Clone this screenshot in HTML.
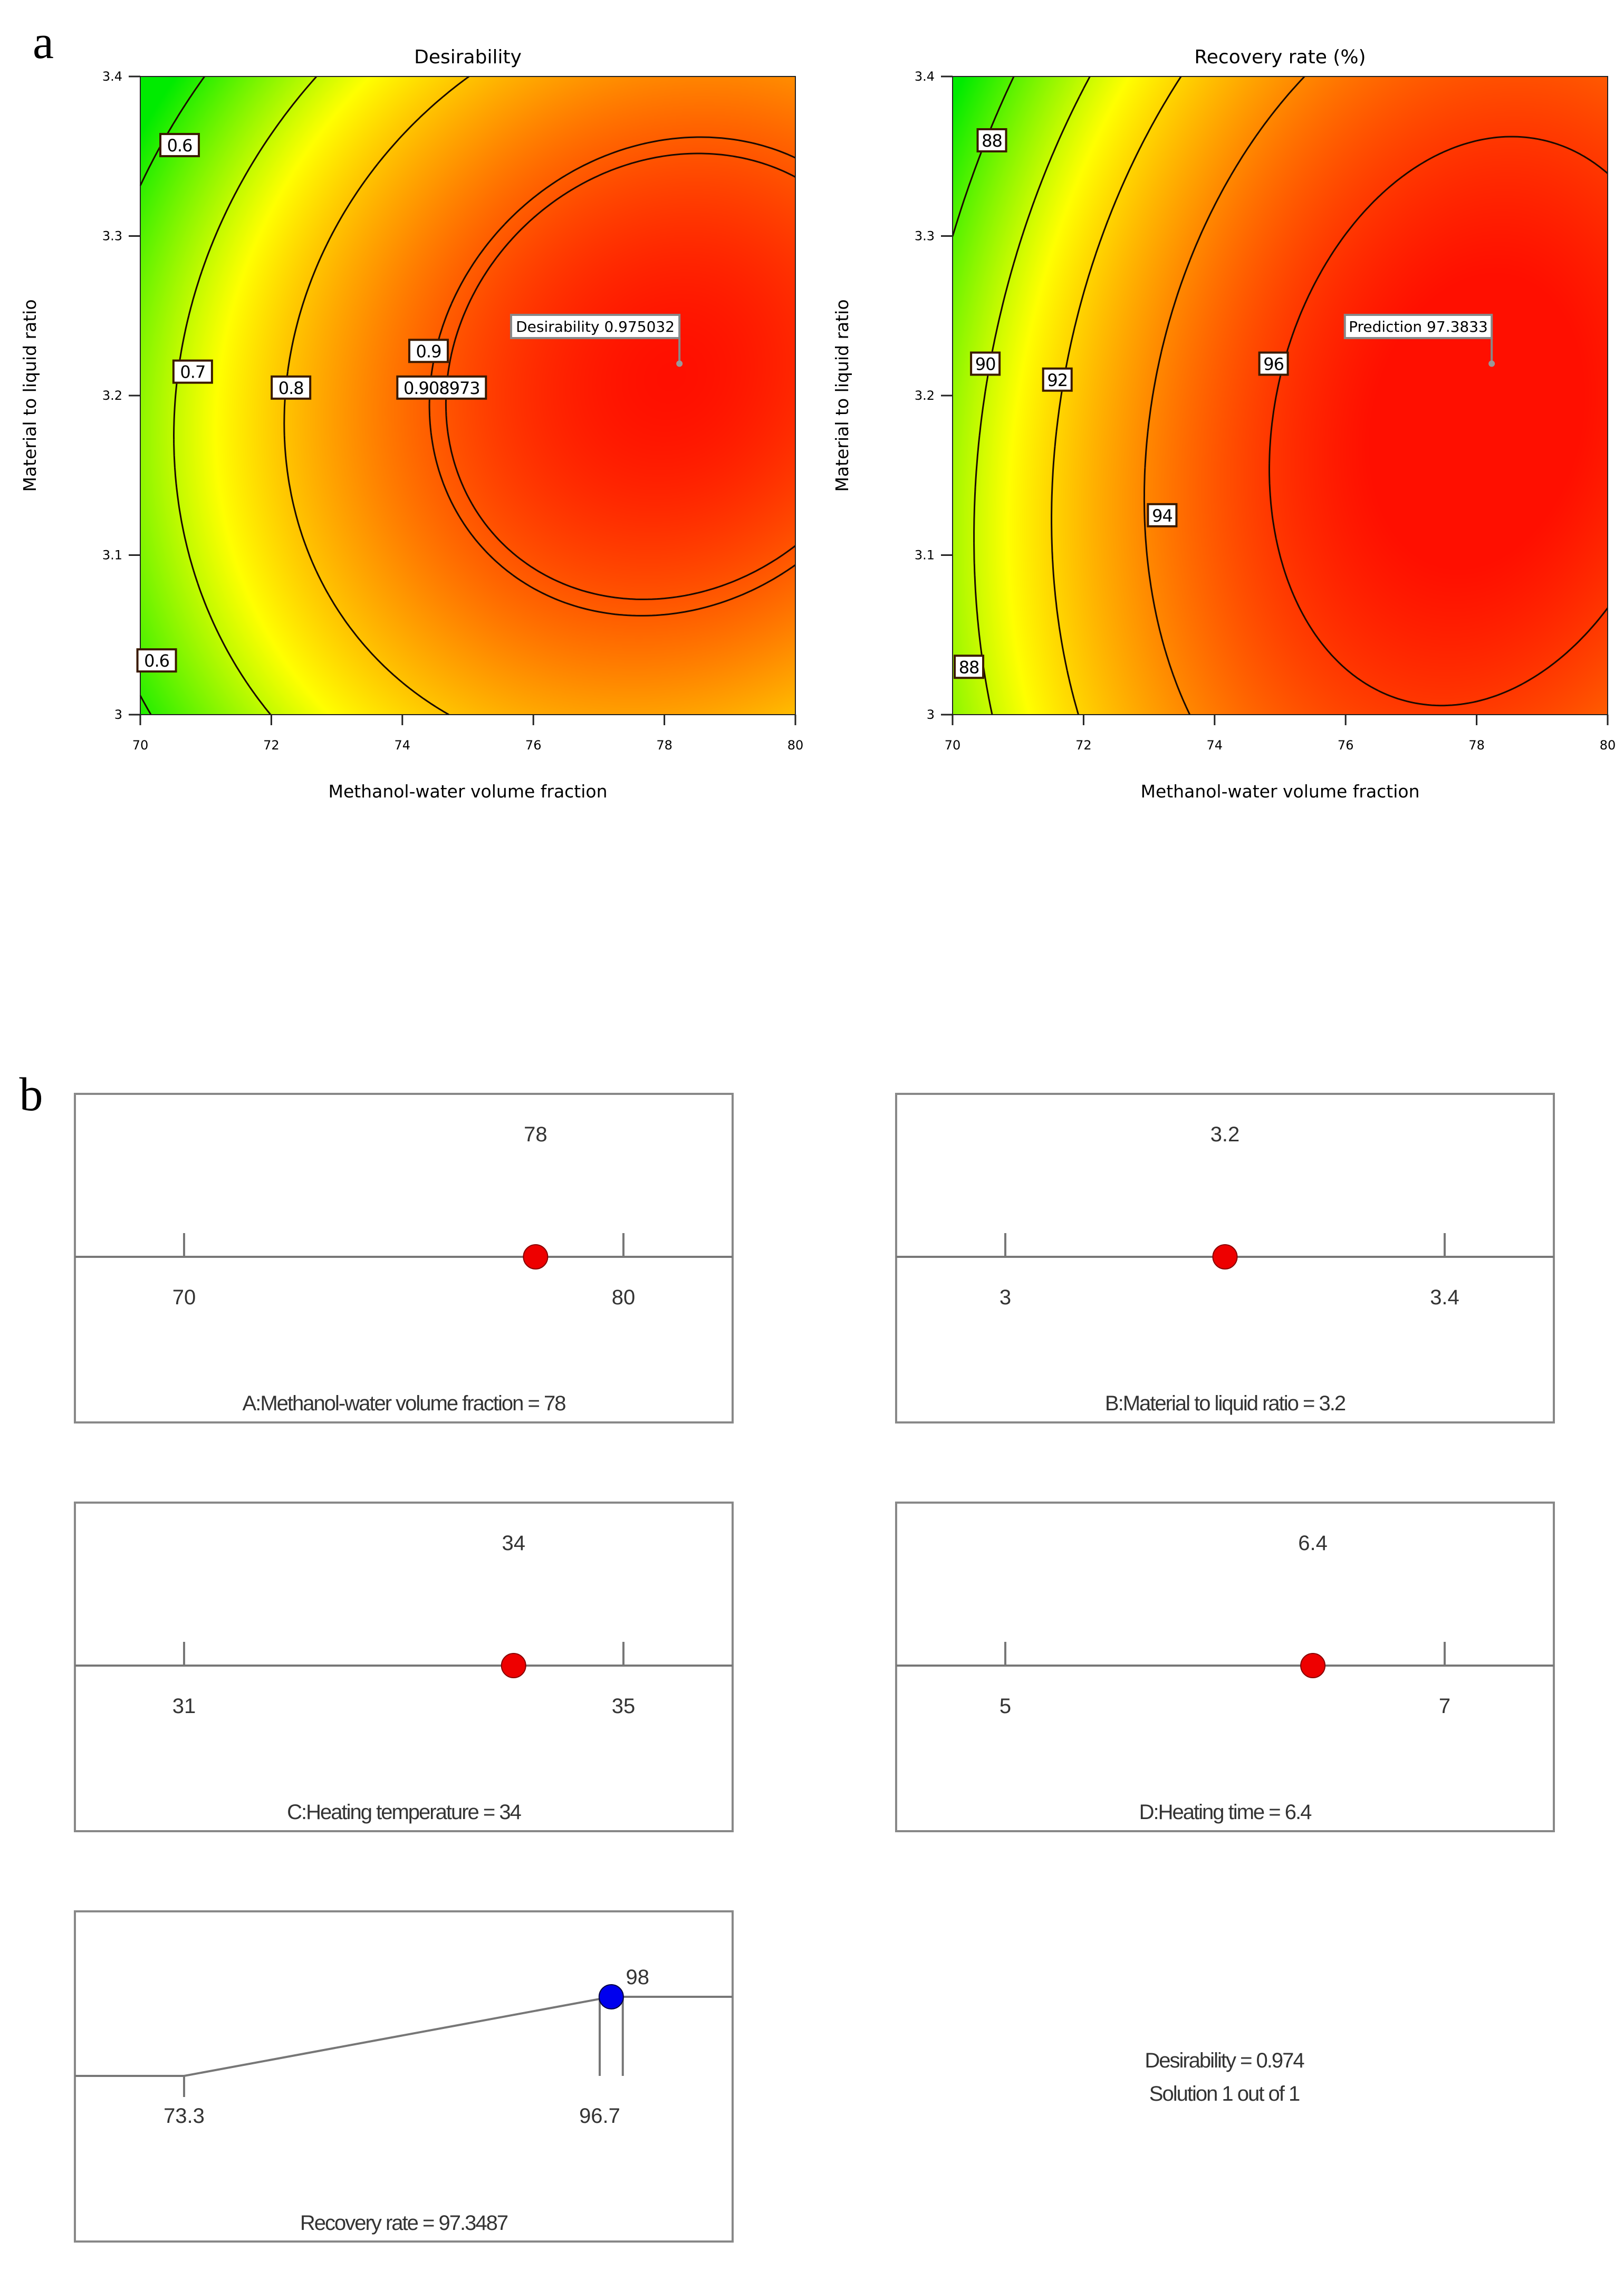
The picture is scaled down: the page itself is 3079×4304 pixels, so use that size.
<!DOCTYPE html>
<html><head><meta charset="utf-8">
<style>
html,body{margin:0;padding:0;background:#fff;}
body{width:3079px;height:4304px;position:relative;overflow:hidden;font-family:"Liberation Sans","DejaVu Sans",sans-serif;}
canvas{position:absolute;}
svg{position:absolute;left:0;top:0;}
</style></head>
<body>
<canvas id="heat1" style="left:266px;top:145px" width="1242" height="1210"></canvas>
<canvas id="heat2" style="left:1806px;top:145px" width="1242" height="1210"></canvas>
<svg id="main" width="3079" height="4304"></svg>
<script>
// ---- data ----
const xTicks = [70,72,74,76,78,80];
const yTicks = [3,3.1,3.2,3.3,3.4];
const yTickLabels = ["3","3.1","3.2","3.3","3.4"];
const desLevels = [0.6,0.7,0.8,0.9,0.908973];
const recLevels = [88,90,92,94,96];
const desLabelText = ["0.6","0.7","0.8","0.9","0.908973","0.6"];
const desLabelX = [70.6,70.8,72.3,74.4,74.6,70.25];
const desLabelY = [3.357,3.215,3.205,3.228,3.205,3.034];
const recLabelText = ["88","90","92","94","96","88"];
const recLabelX = [70.6,70.5,71.6,73.2,74.9,70.25];
const recLabelY = [3.36,3.22,3.21,3.125,3.22,3.03];
const optX = [78.23];
const optY = [3.22];
const desOptText = ["Desirability  0.975032"];
const recOptText = ["Prediction  97.3833"];
// model: f = peak - (A*du^2 + B*dv^2)^pw, du measured from tilted centre
const desModel = [0.975,0.42,0.4,0.81,0.53,0.9,0.12];
const recModel = [97.4,14.7,7.2,0.8,0.46,0.94,0.12];
const NS='http://www.w3.org/2000/svg';
const svg=document.getElementById('main');
function el(tag,attrs,parent){const e=document.createElementNS(NS,tag);for(const k in attrs)e.setAttribute(k,attrs[k]);(parent||svg).appendChild(e);return e;}
function txt(s,x,y,size,anchor,parent,extra){const t=el('text',Object.assign({x:x,y:y,'font-size':size,'text-anchor':anchor||'middle',fill:'#000'},extra||{}),parent);t.textContent=s;return t;}
function model(m,x,y){const v=(y-3)/0.4;const dv=v-m[4];const du=(x-70)/10-(m[3]+m[6]*dv);const q=m[1]*du*du+m[2]*dv*dv;return m[0]-Math.pow(q,m[5]);}
function color(t){
  const stops=[[0,[0,235,0]],[0.42,[255,255,0]],[0.68,[255,150,0]],[1,[255,15,0]]];
  t=Math.max(0,Math.min(1,t));
  for(let i=1;i<stops.length;i++){if(t<=stops[i][0]){const a=stops[i-1],b=stops[i];const f=(t-a[0])/(b[0]-a[0]);return a[1].map((v,k)=>Math.round(v+(b[1][k]-v)*f));}}
  return stops[3][1];
}
function drawPanel(cfg){
  const L=cfg.left,T=145,W=1242,H=1210;
  const sx=x=>L+(x-70)/10*W, sy=y=>T+(3.4-y)/0.4*H;
  const c=document.getElementById(cfg.canvas).getContext('2d');
  const img=c.createImageData(W,H);
  for(let j=0;j<H;j++)for(let i=0;i<W;i++){
    const x=70+i/W*10,y=3.4-j/H*0.4;const v=model(cfg.m,x,y);
    const col=color((v-cfg.lo)/(cfg.hi-cfg.lo));const p=(j*W+i)*4;
    img.data[p]=col[0];img.data[p+1]=col[1];img.data[p+2]=col[2];img.data[p+3]=255;}
  c.putImageData(img,0,0);
  const g=el('g',{});
  
  
  const N=160;
  cfg.levels.forEach((lv,li)=>{
    let d='';
    for(let a=0;a<N;a++)for(let b=0;b<N;b++){
      const x0=70+a/N*10,x1=70+(a+1)/N*10,y0=3+b/N*0.4,y1=3+(b+1)/N*0.4;
      const cs=[[x0,y0],[x1,y0],[x1,y1],[x0,y1]];const vs=cs.map(p=>model(cfg.m,p[0],p[1])-lv);
      const pts=[];
      for(let k=0;k<4;k++){const k2=(k+1)%4;if((vs[k]>0)!==(vs[k2]>0)){const f=vs[k]/(vs[k]-vs[k2]);pts.push([cs[k][0]+(cs[k2][0]-cs[k][0])*f,cs[k][1]+(cs[k2][1]-cs[k][1])*f]);}}
      for(let k=0;k+1<pts.length;k+=2)d+='M'+sx(pts[k][0]).toFixed(1)+' '+sy(pts[k][1]).toFixed(1)+'L'+sx(pts[k+1][0]).toFixed(1)+' '+sy(pts[k+1][1]).toFixed(1);
    }
    const p=el('path',{d:d,stroke:'#1a0a00','stroke-width':3,fill:'none'},g);
    
    
  });
  const fr=el('rect',{x:L,y:T,width:W,height:H,fill:'none',stroke:'#222','stroke-width':2},g);
  
  
  xTicks.forEach(v=>{el('line',{x1:sx(v),x2:sx(v),y1:T+H,y2:T+H+20,stroke:'#222','stroke-width':3},g);
    const t=txt(String(v),sx(v),T+H+66,24,'middle',g,{'font-family':'DejaVu Sans'});
    
    });
  yTicks.forEach((v,i)=>{el('line',{x1:L-22,x2:L,y1:sy(v),y2:sy(v),stroke:'#222','stroke-width':3},g);
    const t=txt(yTickLabels[i],L-34,sy(v)+8,24,'end',g,{'font-family':'DejaVu Sans'});
    
    });
  const tt=txt(cfg.title,L+W/2,120,36,'middle',g,{'font-family':'DejaVu Sans'});
  
  
  const xl=txt('Methanol-water volume fraction',L+W/2,1512,33,'middle',g,{'font-family':'DejaVu Sans'});
  
  
  const yl=txt('Material to liquid ratio',0,0,33,'middle',g,{'font-family':'DejaVu Sans',transform:'translate('+(L-198)+',750) rotate(-90)'});
  
  
  cfg.lt.forEach((s,i)=>{
    const cx=sx(cfg.lx[i]),cy=sy(cfg.ly[i]);const w=s.length*19+16;
    const lg=el('g',{},g);
    
    
    el('rect',{x:cx-w/2,y:cy-21,width:w,height:42,fill:'#fff',stroke:'#3a1a00','stroke-width':4},lg);
    txt(s,cx,cy+12,32,'middle',lg,{'font-family':'DejaVu Sans','letter-spacing':'-1'});
  });
  const px=sx(optX[0]),py=sy(optY[0]);
  const og=el('g',{},g);
  
  
  const bw=cfg.ot.length*13.6+20;
  el('line',{x1:px,x2:px,y1:640,y2:py,stroke:'#888','stroke-width':4},og);
  el('circle',{cx:px,cy:py,r:6,fill:'#999'},og);
  el('rect',{x:px-bw,y:597,width:bw,height:44,fill:'#fff',stroke:'#888','stroke-width':4},og);
  txt(cfg.ot,px-bw/2,629,28,'middle',og,{'font-family':'DejaVu Sans'});
}
drawPanel({left:266,canvas:'heat1',m:desModel,lo:0.57,hi:0.975,levels:desLevels,levelText:["0.6","0.7","0.8","0.9","0.908973"],title:'Desirability',lt:desLabelText,lx:desLabelX,ly:desLabelY,ot:desOptText[0],name:'desirability-contour-plot'});
drawPanel({left:1806,canvas:'heat2',m:recModel,lo:86.5,hi:97.0,levels:recLevels,levelText:["88","90","92","94","96"],title:'Recovery rate (%)',lt:recLabelText,lx:recLabelX,ly:recLabelY,ot:recOptText[0],name:'recovery-contour-plot'});
const la=txt('a',82,110,90,'middle',svg,{'font-family':'Liberation Serif'});


const lb=txt('b',59,2105,90,'middle',svg,{'font-family':'Liberation Serif'});



// ---- panel b ----
const rampNames = ["A:Methanol-water volume fraction = 78","B:Material to liquid ratio = 3.2","C:Heating temperature = 34","D:Heating time = 6.4"];
const rampLow = [70,3,31,5];
const rampHigh = [80,3.4,35,7];
const rampVal = [78,3.2,34,6.4];
const rampLowText = ["70","3","31","5"];
const rampHighText = ["80","3.4","35","7"];
const rampValText = ["78","3.2","34","6.4"];
const boxX=[142,1699,142,1699], boxY=[2074,2074,2849,2849];
rampNames.forEach((nm,i)=>{
  const X=boxX[i],Y=boxY[i],W=1247,H=623;
  const g=el('g',{});
  
  
  el('rect',{x:X,y:Y,width:W,height:H,fill:'#fff',stroke:'#888','stroke-width':4},g);
  const ax=Y+309, t0=X+207, t1=X+1040;
  const sx=v=>t0+(v-rampLow[i])/(rampHigh[i]-rampLow[i])*(t1-t0);
  el('line',{x1:X,x2:X+W,y1:ax,y2:ax,stroke:'#777','stroke-width':4},g);
  el('line',{x1:t0,x2:t0,y1:ax-45,y2:ax,stroke:'#777','stroke-width':4},g);
  el('line',{x1:t1,x2:t1,y1:ax-45,y2:ax,stroke:'#777','stroke-width':4},g);
  txt(rampLowText[i],t0,ax+90,40,'middle',g,{fill:'#333'});
  txt(rampHighText[i],t1,ax+90,40,'middle',g,{fill:'#333'});
  const dx=sx(rampVal[i]);
  txt(rampValText[i],dx,Y+90,40,'middle',g,{fill:'#333'});
  const dot=el('circle',{cx:dx,cy:ax,r:23,fill:'#ee0000',stroke:'#800','stroke-width':2},g);
  
  
  txt(nm,X+W/2,Y+600,40,'middle',g,{fill:'#333','letter-spacing':'-2'});
});
const respLow=[73.3], respHigh=[96.7], respTop=[98], respVal=[97.3487];
(function(){
  const X=142,Y=3624,W=1247,H=626;
  const g=el('g',{});
  
  
  el('rect',{x:X,y:Y,width:W,height:H,fill:'#fff',stroke:'#888','stroke-width':4},g);
  const lowY=3936, topY=3786, xl=349, xh=1137;
  const sx=v=>xl+(v-respLow[0])/(respHigh[0]-respLow[0])*(xh-xl);
  const xt=sx(respTop[0]);
  el('polyline',{points:X+','+lowY+' '+xl+','+lowY+' '+sx(respVal[0])+','+topY+' '+(X+W)+','+topY,fill:'none',stroke:'#777','stroke-width':4},g);
  el('line',{x1:xl,x2:xl,y1:lowY,y2:lowY+40,stroke:'#777','stroke-width':4},g);
  el('line',{x1:xh,x2:xh,y1:topY,y2:lowY,stroke:'#777','stroke-width':4},g);
  el('line',{x1:xt,x2:xt,y1:topY,y2:lowY,stroke:'#777','stroke-width':4},g);
  txt('73.3',xl,4025,40,'middle',g,{fill:'#333'});
  txt('96.7',xh,4025,40,'middle',g,{fill:'#333'});
  txt('98',xt+28,3762,40,'middle',g,{fill:'#333'});
  const dot=el('circle',{cx:sx(respVal[0]),cy:topY,r:23,fill:'#0000ee',stroke:'#004','stroke-width':2},g);
  
  
  txt('Recovery rate = 97.3487',X+W/2,Y+604,40,'middle',g,{fill:'#333','letter-spacing':'-2'});
})();
const d1=txt('Desirability = 0.974',2321,3920,40,'middle',svg,{fill:'#333','letter-spacing':'-2'});


const d2=txt('Solution 1 out of 1',2321,3983,40,'middle',svg,{fill:'#333','letter-spacing':'-2'});


</script>
</body></html>
